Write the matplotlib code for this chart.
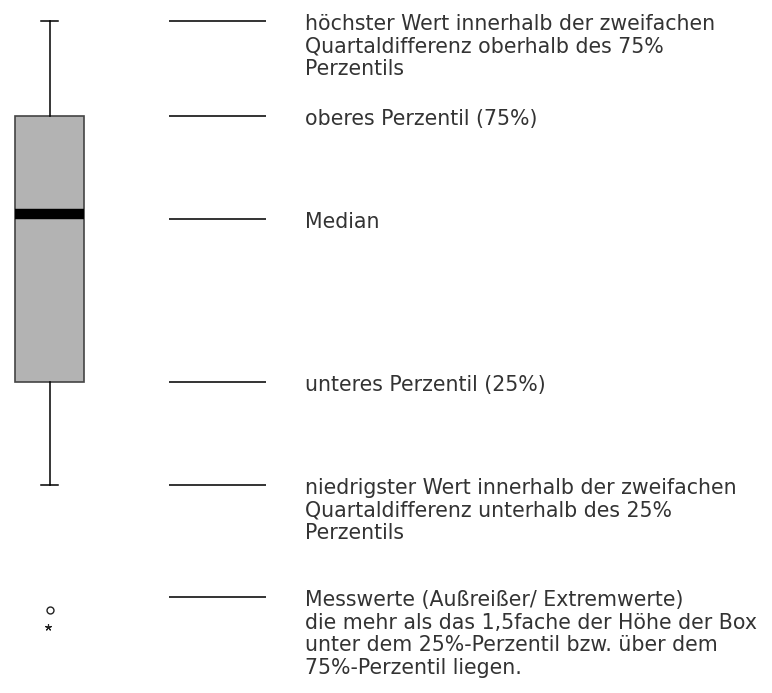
import matplotlib
matplotlib.use('Agg')
import matplotlib.pyplot as plt

plt.rcParams['font.family'] = ['DejaVu Sans']

# Kennwerte des Beispiel-Boxplots (beliebige Skala)
whisker_hoch = 100.0
q3 = 79.5
median = 58.4
q1 = 22.2
whisker_tief = 0.0
ausreisser = [-27.0]
extremwert = [-30.5]

# Höhen der Erklärungslinien und Texte
linien_y = [100.0, 79.5, 57.3, 22.2, 0.0, -24.1]
beschriftungen = [
    'höchster Wert innerhalb der zweifachen\nQuartaldifferenz oberhalb des 75%\nPerzentils',
    'oberes Perzentil (75%)',
    'Median',
    'unteres Perzentil (25%)',
    'niedrigster Wert innerhalb der zweifachen\nQuartaldifferenz unterhalb des 25%\nPerzentils',
    'Messwerte (Außreißer/ Extremwerte)\ndie mehr als das 1,5fache der Höhe der Box\nunter dem 25%-Perzentil bzw. über dem\n75%-Perzentil liegen.',
]

stats = [{
    'med': median, 'q1': q1, 'q3': q3,
    'whislo': whisker_tief, 'whishi': whisker_hoch,
    'fliers': ausreisser,
}]

fig = plt.figure(figsize=(7.72, 6.93), dpi=100)
ax = fig.add_axes([0, 0, 1, 1])

ax.bxp(stats, positions=[49.5], widths=69, capwidths=17, patch_artist=True,
       boxprops=dict(facecolor='#b3b3b3', edgecolor='#444444', linewidth=1.2),
       medianprops=dict(color='black', linewidth=7.5, solid_capstyle='butt'),
       whiskerprops=dict(color='black', linewidth=1.1),
       capprops=dict(color='black', linewidth=1.1),
       flierprops=dict(marker='o', markersize=5, markerfacecolor='none',
                       markeredgecolor='#222222', markeredgewidth=1))
ax.plot([48] * len(extremwert), extremwert, linestyle='none',
        marker=(5, 2, 0), markersize=5, color='#222222', markeredgewidth=0.8)

ax.hlines(linien_y, 169, 266, color='#333333', linewidth=1.4)
for y, txt in zip(linien_y, beschriftungen):
    ax.annotate(txt, xy=(305, y), xytext=(0, 7), textcoords='offset pixels',
                ha='left', va='top', fontsize=14.8, color='#333333',
                linespacing=1.17)

ax.set_xlim(0, 772)
ax.set_ylim(-44.8, 104.5)
ax.axis('off')

fig.savefig('out.png', dpi=100, facecolor='white')
